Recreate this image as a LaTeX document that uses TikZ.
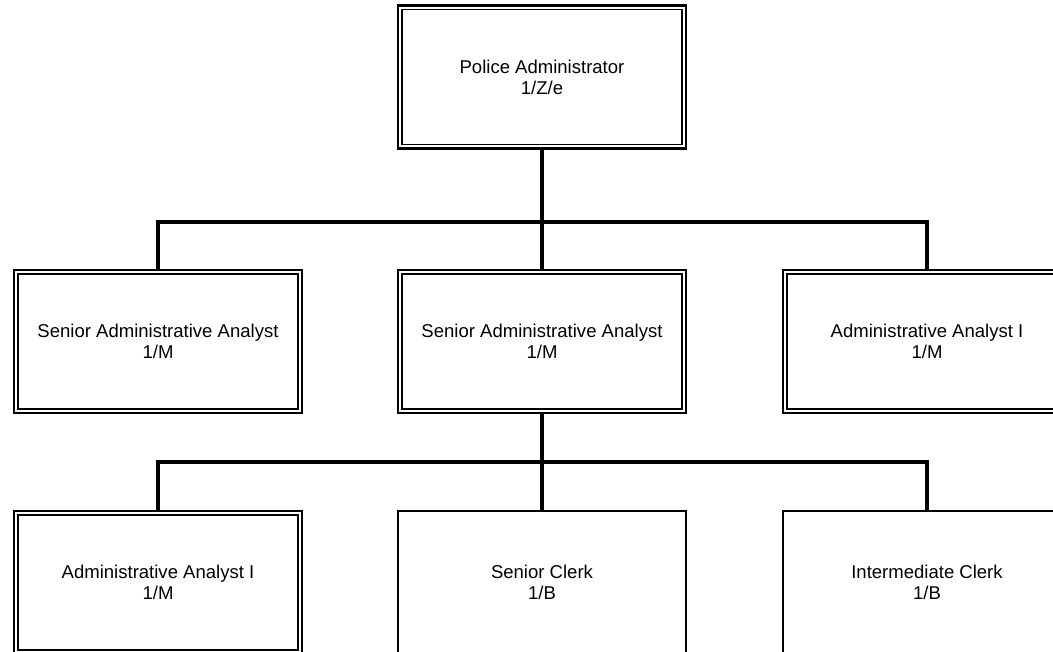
\documentclass[tikz,border=0pt]{standalone}
\usepackage{fontspec}
\setmainfont{Liberation Sans}
\begin{document}
\begin{tikzpicture}[x=0.75pt,y=-0.75pt,
  box/.style={draw, line width=1.7pt, minimum width=216pt, minimum height=107.25pt,
    inner sep=0pt, align=center, font=\fontsize{13.9}{15.9}\selectfont},
  innerline/.style={draw, line width=1.05pt},
  conn/.style={draw, line width=2.5pt}]
\useasboundingbox (0,0) rectangle (1053,652);
\clip (0,0) rectangle (1053,652);
% nodes
\node[box] (top) at (542,77) {Police Administrator\\1/Z/e};
\node[box] (l1) at (158,341.5) {Senior Administrative Analyst\\1/M};
\node[box] (m1) at (542,341.5) {Senior Administrative Analyst\\1/M};
\node[box] (r1) at (927,341.5) {Administrative Analyst I\\1/M};
\node[box] (l2) at (158,582.5) {Administrative Analyst I\\1/M};
\node[box] (m2) at (542,582.5) {Senior Clerk\\1/B};
\node[box] (r2) at (927,582.5) {Intermediate Clerk\\1/B};
% inner borders for double-framed boxes
\foreach \n in {top,l1,m1,r1,l2}{
  \draw[innerline] ([shift={(5,5)}]\n.north west) rectangle ([shift={(-5,-5)}]\n.south east);
}
% connectors
\coordinate (j1) at (542,222);
\coordinate (j2) at (542,462);
\draw[conn] (top.south) -- (top.south |- j1);
\draw[conn] (l1.north) -- (l1.north |- j1) -- (r1.north |- j1) -- (r1.north);
\draw[conn] (m1.north) -- (m1.north |- j1);
\draw[conn] (m1.south) -- (m1.south |- j2);
\draw[conn] (l2.north) -- (l2.north |- j2) -- (r2.north |- j2) -- (r2.north);
\draw[conn] (m2.north) -- (m2.north |- j2);
\end{tikzpicture}
\end{document}
